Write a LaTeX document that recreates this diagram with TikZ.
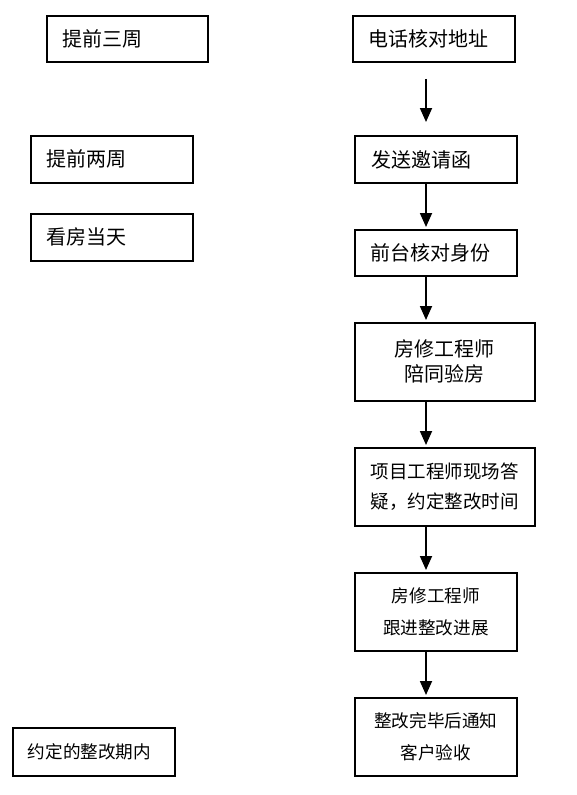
\documentclass[tikz,border=0pt]{standalone}
\usepackage{fontspec}
\setmainfont{Noto Sans CJK SC}
\usepackage{tikz}
\usetikzlibrary{arrows.meta}

\tikzset{
  stepbox/.style={draw, rectangle, line width=1.8pt, anchor=north west, inner ysep=0pt},
  leftbox/.style={stepbox, inner xsep=#1, align=left},
  flow/.style={-{Triangle[length=14pt,width=12pt]}, line width=1.8pt},
}
\newcommand{\bigtxt}{\fontsize{20}{25}\selectfont}
\newcommand{\midtxt}{\fontsize{18.5}{30}\selectfont}
\newcommand{\smalltxt}{\fontsize{17.6}{32}\selectfont}

\begin{document}
\begin{tikzpicture}[x=1pt, y=-1pt]
  \useasboundingbox (0,0) rectangle (577,795);
  % time column
  \node[leftbox=16pt, text width=129pt, minimum height=46pt, font=\bigtxt] (wk3) at (46,15) {提前三周};
  \node[leftbox=16pt, text width=130pt, minimum height=47pt, font=\bigtxt] (wk2) at (30,135) {提前两周};
  \node[leftbox=16pt, text width=130pt, minimum height=47pt, font=\bigtxt] (day) at (30,213) {看房当天};
  \node[leftbox=15pt, text width=132pt, minimum height=48pt, font=\smalltxt] (due) at (12,727) {约定的整改期内};
  % step column
  \node[leftbox=16pt, text width=130pt, minimum height=46pt, font=\bigtxt] (tel) at (352,15) {电话核对地址};
  \node[leftbox=17pt, text width=128pt, minimum height=47pt, font=\bigtxt] (inv) at (354,135) {发送邀请函};
  \node[leftbox=16pt, text width=130pt, minimum height=46pt, font=\bigtxt] (id) at (354,229) {前台核对身份};
  \node[stepbox, align=center, minimum width=180pt, minimum height=78pt, font=\bigtxt] (acc) at (354,322)
    {房修工程师\\ 陪同验房};
  \node[stepbox, align=center, minimum width=180pt, minimum height=78pt, font=\midtxt] (qa) at (354,447)
    {项目工程师现场答\\ 疑，约定整改时间};
  \node[stepbox, align=center, minimum width=162pt, minimum height=78pt, font=\smalltxt] (trk) at (354,572)
    {房修工程师\\ 跟进整改进展};
  \node[stepbox, align=center, minimum width=162pt, minimum height=78pt, font=\smalltxt] (fin) at (354,697)
    {整改完毕后通知\\ 客户验收};
  % arrows
  \coordinate (ax) at (426,0);
  \draw[flow, shorten <=16pt, shorten >=13pt] (tel.south -| ax) -- (inv.north -| ax);
  \foreach \a/\b in {inv/id, id/acc, acc/qa, qa/trk, trk/fin}
    \draw[flow, shorten >=2pt] (\a.south -| ax) -- (\b.north -| ax);
\end{tikzpicture}
\end{document}
